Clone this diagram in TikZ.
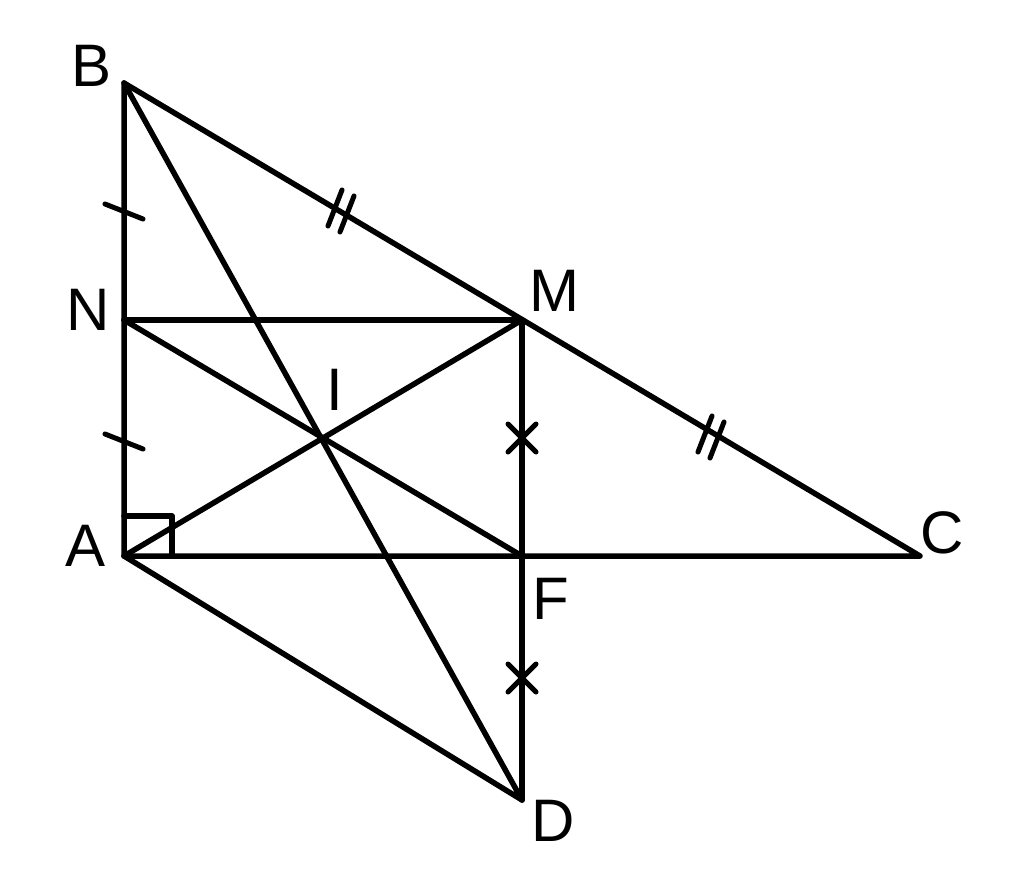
\documentclass[tikz,border=0pt]{standalone}
\usepackage{fontspec}
\setmainfont{Liberation Sans}
\begin{document}
\begin{tikzpicture}[x=1pt,y=-1pt,line width=5.5pt,line cap=round,line join=round,
 lab/.style={font=\fontsize{60}{60}\selectfont,inner sep=0pt},
 mk/.style={line width=5pt}]
\useasboundingbox (0,0) rectangle (1024,877);
\coordinate (B) at (124,83);
\coordinate (A) at (124,556);
\coordinate (C) at (920,556);
\coordinate (M) at (522,320);
\coordinate (N) at (124,320);
\coordinate (F) at (522,556);
\coordinate (D) at (522,800);
\coordinate (I) at (322,438);
\draw (B) -- (A) -- (C) -- (B);
\draw (N) -- (M) -- (D);
\draw (N) -- (F);
\draw (A) -- (M);
\draw (B) -- (D) -- (A);
\draw (124,516) -- (172,516) -- (172,556);
% single ticks
\draw[mk] (105,204) -- (143,219);
\draw[mk] (105,434) -- (143,449);
% double ticks
\draw[mk] (328,226) -- (342,190); \draw[mk] (340,232) -- (354,196);
\draw[mk] (698,452) -- (712,416); \draw[mk] (710,458) -- (724,422);
% crosses
\draw[mk] (508,424) -- (536,452); \draw[mk] (508,452) -- (536,424);
\draw[mk] (508,664) -- (536,692); \draw[mk] (508,692) -- (536,664);
\node[lab] (lB) at (92,66) {B};
\node[lab] (lN) at (88,310) {N};
\node[lab] (lM) at (554,291) {M};
\node[lab] (lI) at (335,390) {I};
\node[lab] (lA) at (86,546) {A};
\node[lab] (lC) at (942,533) {C};
\node[lab] (lF) at (551,599) {F};
\node[lab] (lD) at (553,821) {D};
\end{tikzpicture}
\end{document}
